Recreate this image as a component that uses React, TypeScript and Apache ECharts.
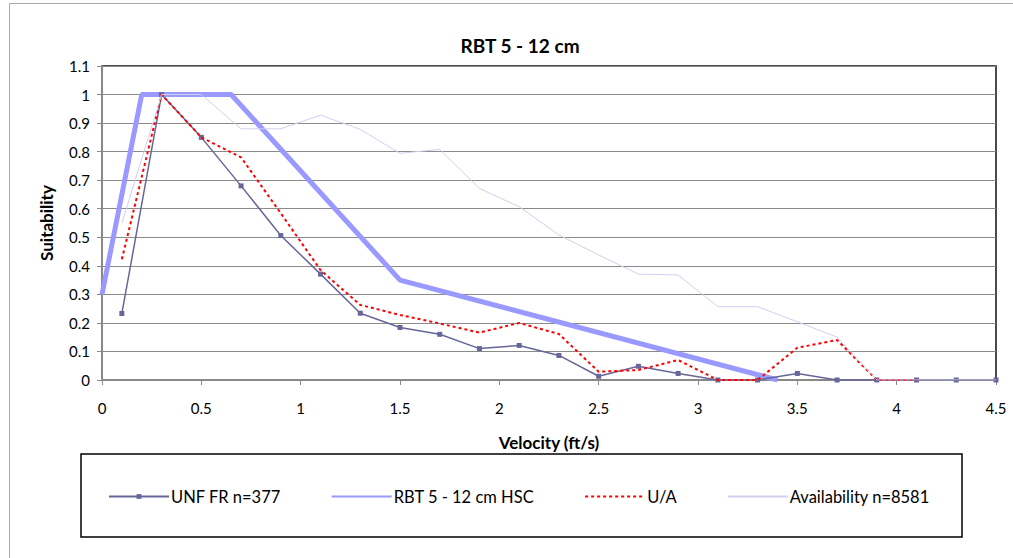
import React, { useEffect, useRef } from "react";
import * as echarts from "echarts";

const title = "RBT 5 - 12 cm";
const xName = "Velocity (ft/s)";
const yName = "Suitability";

const velocities = [0.1, 0.3, 0.5, 0.7, 0.9, 1.1, 1.3, 1.5, 1.7, 1.9, 2.1, 2.3, 2.5, 2.7, 2.9, 3.1, 3.3, 3.5, 3.7, 3.9, 4.1, 4.3, 4.5];
const unfName = "UNF FR n=377";
const unfValues = [0.233, 1.0, 0.85, 0.68, 0.506, 0.371, 0.234, 0.184, 0.16, 0.11, 0.121, 0.086, 0.013, 0.048, 0.023, 0, 0, 0.023, 0, 0, 0, 0, 0];

const hscName = "RBT 5 - 12 cm HSC";
const hscX = [0, 0.2, 0.65, 1.5, 3.4];
const hscValues = [0.3, 1.0, 1.0, 0.35, 0];

const uaName = "U/A";
const uaValues = [0.423, 1.0, 0.85, 0.78, 0.584, 0.385, 0.263, 0.228, 0.198, 0.166, 0.2, 0.161, 0.029, 0.035, 0.07, 0, 0, 0.113, 0.14, 0, 0];

const availName = "Availability n=8581";
const availValues = [0.549, 1.0, 1.0, 0.88, 0.88, 0.928, 0.878, 0.794, 0.808, 0.671, 0.607, 0.508, 0.438, 0.371, 0.368, 0.257, 0.257, 0.204, 0.15, 0, 0, 0, 0];

const pairs = (xs: number[], ys: number[]) => ys.map((y, i) => [xs[i], y]);

const FONT = "Lato, 'Open Sans', 'Liberation Sans', sans-serif";

export default function App() {
  const ref = useRef<HTMLDivElement>(null);
  useEffect(() => {
    if (!ref.current) return;
    const chart = echarts.init(ref.current, null, { renderer: "svg" });
    chart.setOption({
      animation: false,
      backgroundColor: "#ffffff",
      textStyle: { fontFamily: FONT, color: "#000" },
      title: {
        text: title,
        left: 515,
        top: 31,
        textAlign: "center",
        textStyle: { fontSize: 19, fontWeight: "bold", color: "#000", fontFamily: FONT },
      },
      grid: {
        left: 102,
        right: 17,
        top: 66,
        bottom: 178,
        show: true,
        borderColor: "#111",
        borderWidth: 1.5,
        backgroundColor: "transparent",
      },
      xAxis: {
        type: "value",
        min: 0,
        max: 4.5,
        interval: 0.5,
        name: xName,
        nameLocation: "middle",
        nameGap: 54,
        nameTextStyle: { fontSize: 17, fontWeight: "bold", color: "#000", fontFamily: FONT },
        axisLine: { show: true, lineStyle: { color: "#888", width: 2 } },
        axisTick: { show: true, inside: false, length: 5, lineStyle: { color: "#888" } },
        axisLabel: { fontSize: 15, color: "#000", margin: 20, fontFamily: FONT },
        splitLine: { show: false },
      },
      yAxis: {
        type: "value",
        min: 0,
        max: 1.1,
        interval: 0.1,
        name: yName,
        nameLocation: "middle",
        nameGap: 47,
        nameTextStyle: { fontSize: 17, fontWeight: "bold", color: "#000", fontFamily: FONT },
        axisLine: { show: true, lineStyle: { color: "#888", width: 2 } },
        axisTick: { show: true, inside: false, length: 5, lineStyle: { color: "#888" } },
        axisLabel: {
          fontSize: 15,
          color: "#000",
          margin: 12,
          fontFamily: FONT,
          formatter: (v: number) => String(Math.round(v * 10) / 10),
        },
        splitLine: { show: true, lineStyle: { color: "#8a8a8a", width: 1 } },
      },
      legend: {
        left: 108,
        top: 488,
        padding: 0,
        itemWidth: 60,
        itemHeight: 6,
        itemGap: 50,
        textStyle: { fontSize: 16.5, color: "#000", fontFamily: FONT, padding: [0, 0, 0, -3] },
        data: [
          { name: unfName },
          { name: hscName, itemStyle: { opacity: 0 } },
          { name: uaName, itemStyle: { opacity: 0 } },
          { name: availName, itemStyle: { opacity: 0 } },
        ],
      },
      graphic: [
        {
          type: "rect",
          silent: true,
          shape: { x: 9.5, y: 3.5, width: 1100, height: 700 },
          style: { fill: "none", stroke: "#aaa", lineWidth: 1 },
          z: -10,
        },
        {
          type: "rect",
          silent: true,
          shape: { x: 81, y: 454, width: 881, height: 83 },
          style: { fill: "none", stroke: "#000", lineWidth: 1.5 },
          z: -5,
        },
      ],
      series: [
        {
          name: unfName,
          type: "line",
          data: pairs(velocities, unfValues),
          symbol: "rect",
          symbolSize: 5,
          showAllSymbol: true,
          lineStyle: { color: "#666699", width: 1.5 },
          itemStyle: { color: "#666699" },
          z: 2,
        },
        {
          name: hscName,
          type: "line",
          data: pairs(hscX, hscValues),
          symbol: "none",
          lineStyle: { color: "#9999ff", width: 5 },
          itemStyle: { color: "#9999ff" },
          z: 1,
        },
        {
          name: uaName,
          type: "line",
          data: pairs(velocities, uaValues),
          symbol: "none",
          lineStyle: { color: "#ff0000", width: 2, type: [3, 3] },
          itemStyle: { color: "#ff0000" },
          z: 3,
        },
        {
          name: availName,
          type: "line",
          data: pairs(velocities, availValues),
          symbol: "none",
          lineStyle: { color: "#cfcfee", width: 1 },
          itemStyle: { color: "#cfcfee" },
          z: 4,
        },
      ],
    });
    return () => chart.dispose();
  }, []);
  return (
    <div
      ref={ref}
      style={{ position: "fixed", left: 0, top: 0, width: 1013, height: 558, background: "#fff" }}
    />
  );
}
